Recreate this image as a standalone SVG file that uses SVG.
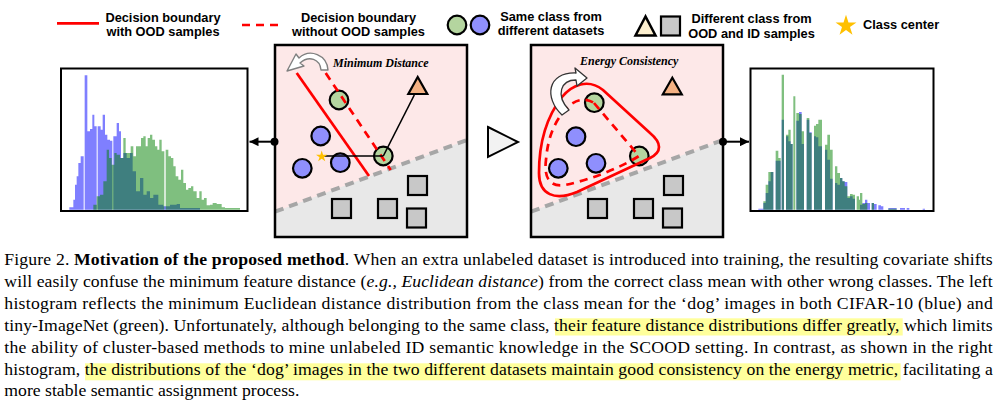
<svg xmlns="http://www.w3.org/2000/svg" width="998" height="403" viewBox="0 0 998 403">
<style>
.lt{font-family:"Liberation Sans",Arial,sans-serif;font-weight:bold;font-size:12.8px;fill:#000;text-anchor:middle}
.pt{font-family:"Liberation Serif","Times New Roman",serif;font-weight:bold;font-style:italic;font-size:12px;fill:#000}
.cap{font-family:"Liberation Serif","Times New Roman",serif;font-size:16.3px;fill:#000}
.g{fill:#b4d59f;stroke:#000;stroke-width:2.2}
.b{fill:#8f8ffd;stroke:#000;stroke-width:2.2}
.sq{fill:#c8c8c8;stroke:#000;stroke-width:2.2}
.tri{fill:#f4b183;stroke:#000;stroke-width:2.2;stroke-linejoin:miter}
.frame{fill:none;stroke:#000;stroke-width:2.5}
.pink{fill:#fde8e8}
.grey{fill:#e8e8e8}
.sep{stroke:#a6a6a6;stroke-width:4;stroke-dasharray:9 6;fill:none}
.rs{stroke:#f00;stroke-width:2.7;fill:none}
.rd{stroke:#f00;stroke-width:2.7;fill:none;stroke-dasharray:8 6}
.bl{stroke:#000;stroke-width:1.6}
.hb{fill:#0000ff;fill-opacity:0.5}
.hg{fill:#008000;fill-opacity:0.5}
.hbox{fill:none;stroke:#000;stroke-width:2}
.hl{fill:#ffff9c}
.star{fill:#ffc000}
.conn{stroke:#000;stroke-width:2;fill:none}
</style>
<defs>
<path id="star" d="M0,-1 L0.2245,-0.309 L0.9511,-0.309 L0.3633,0.118 L0.5878,0.809 L0,0.382 L-0.5878,0.809 L-0.3633,0.118 L-0.9511,-0.309 L-0.2245,-0.309 Z"/>
<marker id="ah" viewBox="0 0 10 10" refX="10" refY="5" markerWidth="9" markerHeight="9" markerUnits="userSpaceOnUse" orient="auto">
<path d="M0,0 L10,5 L0,10 Z" fill="#000"/>
</marker>
</defs>
<rect width="998" height="403" fill="#fff"/>

<g id="legend">
<line class="rs" x1="57" y1="23.3" x2="99" y2="23.3"/>
<text class="lt" x="163" y="21.7">Decision boundary</text>
<text class="lt" x="163" y="36">with OOD samples</text>
<line class="rd" x1="242" y1="25" x2="282" y2="25"/>
<text class="lt" x="358.5" y="21.7">Decision boundary</text>
<text class="lt" x="358.5" y="36">without OOD samples</text>
<circle class="g" cx="457" cy="25" r="9.3"/>
<circle class="b" cx="480" cy="25" r="9.3"/>
<text class="lt" x="551" y="21">Same class from</text>
<text class="lt" x="551" y="35.3">different datasets</text>
<polygon points="645.5,16.5 635.5,35.5 655.5,35.5" fill="#fdf0d0" stroke="#000" stroke-width="2.5"/>
<rect class="sq" x="661" y="16.5" width="19" height="19" stroke-width="2.5"/>
<text class="lt" x="751.5" y="23.3">Different class from</text>
<text class="lt" x="751.5" y="38">OOD and ID samples</text>
<use href="#star" class="star" transform="translate(846 25.8) scale(11)"/>
<text class="lt" x="863" y="29.3" style="text-anchor:start">Class center</text>
</g>

<g id="hist-left">
<rect x="61" y="68.5" width="186.5" height="142.5" fill="#fff"/>
<g transform="translate(60 68) scale(0.33333)">
<path class="hb" d="M28,425 V418 H40 V395 H45 V350 H50 V325 H55 V285 H62 V265 H71 V425 H74 V22 H82 V190 H90 V183 H97 V140 H103 V175 H110 V425 H113 V175 H122 V185 H128 V140 H135 V200 H142 V215 H150 V218 H157 V425 H160 V205 H170 V165 H177 V190 H183 V270 H190 V255 H200 V270 H210 V255 H218 V310 H228 V370 H240 V330 H250 V380 H260 V370 H270 V390 H280 V380 H295 V410 H310 V415 H330 V410 H350 V408 H360 V420 H420 V425 Z"/>
<path class="hg" d="M100,425 V410 H110 V385 H120 V380 H130 V340 H140 V245 H147 V270 H155 V290 H163 V255 H170 V260 H180 V270 H190 V210 H197 V255 H205 V255 H212 V235 H220 V265 H228 V235 H235 V235 H243 V210 H250 V205 H257 V235 H263 V210 H270 V200 H277 V215 H285 V235 H292 V245 H298 V215 H305 V250 H313 V425 H317 V245 H325 V265 H333 V270 H340 V295 H347 V325 H355 V335 H363 V305 H370 V345 H378 V365 H385 V360 H393 V355 H400 V370 H410 V390 H418 V370 H425 V395 H432 V390 H440 V412 H450 V410 H458 V405 H470 V408 H485 V418 H495 V420 H540 V425 Z"/>
</g>
<rect class="hbox" x="61" y="68.5" width="186.5" height="142.5"/>
</g>

<g id="hist-right">
<rect x="750.5" y="68.5" width="183" height="142.5" fill="#fff"/>
<g transform="translate(750 68) scale(0.33333)">
<path class="hb" d="M25,425 V422 H40 V405 H47 V375 H55 V340 H62 V312 H70 V425 H77 V278 H92 V425 H95 V155 H102 V425 H108 V205 H115 V220 H122 V228 H128 V425 H139 V158 H147 V132 H155 V228 H162 V425 H170 V155 H178 V193 H185 V425 H192 V205 H198 V208 H205 V235 H216 V425 H225 V245 H232 V275 H240 V332 H248 V425 H255 V345 H262 V350 H270 V330 H277 V340 H284 V342 H292 V390 H300 V385 H308 V392 H315 V425 H330 V410 H337 V405 H345 V395 H352 V405 H360 V425 H365 V405 H372 V408 H380 V425 H385 V412 H393 V415 H400 V425 H415 V420 H440 V425 H450 V420 H465 V425 H470 V420 H478 V425 H518 V422 H525 V425 Z"/>
<path class="hg" d="M40,425 V400 H47 V350 H55 V312 H70 V425 H77 V248 H85 V270 H92 V425 H95 V20 H102 V425 H108 V200 H115 V185 H122 V228 H128 V425 H130 V85 H136 V425 H139 V135 H147 V138 H155 V190 H162 V425 H170 V150 H178 V195 H185 V425 H192 V173 H198 V168 H205 V155 H216 V425 H225 V230 H232 V200 H240 V245 H248 V425 H255 V295 H262 V315 H270 V330 H277 V340 H284 V355 H292 V385 H300 V378 H308 V380 H315 V425 H320 V385 H327 V395 H330 V375 H337 V408 H345 V405 H352 V425 H365 V405 H372 V425 H415 V422 H440 V425 Z"/>
</g>
<rect class="hbox" x="750.5" y="68.5" width="183" height="142.5"/>
</g>

<g id="panel-left">
<rect class="pink" x="275" y="45" width="192" height="192"/>
<polygon class="grey" points="275,211.7 467,140 467,237 275,237"/>
<line class="sep" x1="275" y1="211.7" x2="467" y2="140"/>
<rect class="sq" x="408" y="176" width="19" height="19"/>
<rect class="sq" x="332" y="199" width="19" height="19"/>
<rect class="sq" x="378" y="199" width="19" height="19"/>
<rect class="sq" x="407" y="208.5" width="19" height="19"/>
<polygon class="tri" points="417.7,77 408.3,94 427.3,94"/>
<circle class="g" cx="339" cy="100" r="9.3"/>
<circle class="b" cx="320.7" cy="136" r="9.3"/>
<circle class="b" cx="340.3" cy="162.7" r="9.3"/>
<circle class="b" cx="302.3" cy="168.3" r="9.3"/>
<circle class="g" cx="383.3" cy="156" r="9.3"/>
<line class="rs" x1="296.7" y1="73" x2="369" y2="176"/>
<line class="rd" x1="325.7" y1="73" x2="390.7" y2="170"/>
<line class="bl" x1="322" y1="156" x2="383.3" y2="156"/>
<line class="bl" x1="383.3" y1="156" x2="414.3" y2="95"/>
<use href="#star" class="star" transform="translate(321.7 156.5) scale(6)"/>
<path d="M328,70 C327,55 310,48 299,58 L296,54 L287,71 L304,66 L300,63 C309,55 320,59 321,70 Z" fill="#fff" stroke="#808080" stroke-width="1.4" stroke-linejoin="round"/>
<text class="pt" x="333" y="67">Minimum Distance</text>
<rect class="frame" x="275" y="45" width="192" height="192"/>
</g>

<g id="panel-right">
<rect class="pink" x="531" y="45" width="192" height="192"/>
<polygon class="grey" points="531,211.7 723,140 723,237 531,237"/>
<line class="sep" x1="531" y1="211.7" x2="723" y2="140"/>
<rect class="sq" x="664" y="176" width="19" height="19"/>
<rect class="sq" x="588" y="199" width="19" height="19"/>
<rect class="sq" x="634" y="199" width="19" height="19"/>
<rect class="sq" x="663" y="208.5" width="19" height="19"/>
<polygon class="tri" points="672.3,77.7 662.8,94.3 681.8,94.3"/>
<circle class="b" cx="576" cy="136.7" r="9.3"/>
<circle class="b" cx="558.3" cy="168.3" r="9.3"/>
<circle class="b" cx="596" cy="163.3" r="9.3"/>
<circle class="g" cx="594.3" cy="102.7" r="9.3"/>
<circle class="g" cx="639.3" cy="156" r="9.3"/>
<path class="rs" d="M539,173 C539,140 548,115 562,97 C572,85 588,78 603,90 L650,133 C662,143 662,152 650,158 L577,192 C555,201 539,195 539,173 Z"/>
<path class="rd" d="M594,103 L639,156 C620,168 590,180 565,185 C548,188 544,175 546,160 C548,135 556,118 570,105 C578,99 586,98 594,103"/>
<path d="M562,115 C544,98 547,72 576,73 L575,68 L587,78 L577,86 L576,80 C561,80 555,95 569,110 Z" fill="#fff" stroke="#333" stroke-width="1.3" stroke-linejoin="round"/>
<text class="pt" x="580" y="65">Energy Consistency</text>
<rect class="frame" x="531" y="45" width="192" height="192"/>
</g>

<g id="connectors">
<line class="conn" x1="274" y1="141.7" x2="249.5" y2="141.7" marker-end="url(#ah)"/>
<circle cx="274.5" cy="141.7" r="4"/>
<line class="conn" x1="723" y1="141.7" x2="749" y2="141.7" marker-end="url(#ah)"/>
<circle cx="723" cy="141.7" r="4"/>
<polygon points="488,127 518,142 488,157" fill="#f2f2f2" stroke="#000" stroke-width="2"/>
</g>

<g id="caption">
<rect class="hl" x="555" y="318.3" width="347.7" height="17.2"/>
<rect class="hl" x="85" y="363.3" width="815.7" height="17"/>
<g transform="translate(4.3 0) scale(1.085 1)">
<text class="cap" x="0" y="265.3" textLength="911" lengthAdjust="spacing">Figure 2. <tspan font-weight="bold">Motivation of the proposed method</tspan>. When an extra unlabeled dataset is introduced into training, the resulting covariate shifts</text>
<text class="cap" x="0" y="287.2" textLength="911" lengthAdjust="spacing">will easily confuse the minimum feature distance (<tspan font-style="italic">e.g., Euclidean distance</tspan>) from the correct class mean with other wrong classes. The left</text>
<text class="cap" x="0" y="309" textLength="911" lengthAdjust="spacing">histogram reflects the minimum Euclidean distance distribution from the class mean for the ‘dog’ images in both CIFAR-10 (blue) and</text>
<text class="cap" x="0" y="330.9" textLength="911" lengthAdjust="spacing">tiny-ImageNet (green). Unfortunately, although belonging to the same class, their feature distance distributions differ greatly, which limits</text>
<text class="cap" x="0" y="352.7" textLength="911" lengthAdjust="spacing">the ability of cluster-based methods to mine unlabeled ID semantic knowledge in the SCOOD setting. In contrast, as shown in the right</text>
<text class="cap" x="0" y="374.6" textLength="911" lengthAdjust="spacing">histogram, the distributions of the ‘dog’ images in the two different datasets maintain good consistency on the energy metric, facilitating a</text>
<text class="cap" x="0" y="396.4">more stable semantic assignment process.</text>
</g>
</g>
</svg>
